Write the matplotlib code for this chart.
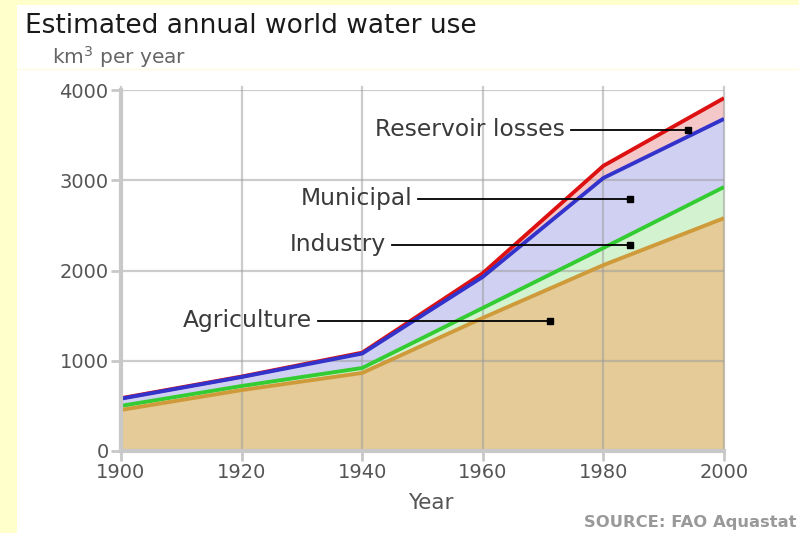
import matplotlib
matplotlib.use("Agg")
import matplotlib.pyplot as plt
from matplotlib.patches import Rectangle
import numpy as np

plt.rcParams['font.family'] = ['DejaVu Sans']

years = [1900, 1920, 1940, 1960, 1980, 2000]
# cumulative totals, km3 per year
agriculture_total = [455, 675, 865, 1475, 2060, 2580]
industry_total = [500, 720, 920, 1585, 2250, 2925]
municipal_total = [580, 820, 1080, 1930, 3025, 3680]
reservoir_total = [585, 825, 1090, 1970, 3160, 3910]

series_names = ["Agriculture", "Industry", "Municipal", "Reservoir losses"]
x_ticks = [1900, 1920, 1940, 1960, 1980, 2000]
y_ticks = [0, 1000, 2000, 3000, 4000]

fill_colors = ["#E4CB98", "#D3F2D0", "#D0D0F2", "#F4C8C8"]
line_colors = ["#CF9A3A", "#33CC33", "#3333CC", "#DD1111"]

fig = plt.figure(figsize=(7.99, 5.33), dpi=100)
fig.patch.set_facecolor("#FFFFCC")
fig.patches.append(Rectangle((17 / 799, 0), 1, 1 - 5 / 533, transform=fig.transFigure,
                             facecolor="white", edgecolor="none", zorder=-5))
fig.lines.append(plt.Line2D([17 / 799, 1], [1 - 69 / 533, 1 - 69 / 533], transform=fig.transFigure,
                            color="#FFFBDD", lw=1, zorder=-4))

ax = fig.add_axes([121 / 799, 1 - 451 / 533, (724 - 121) / 799, (451 - 90) / 533])
ax.set_facecolor("none")
ax.set_zorder(1)

layers = [agriculture_total, industry_total, municipal_total, reservoir_total]
lower = np.zeros(len(years))
for vals, fc in zip(layers, fill_colors):
    v = np.array(vals, dtype=float)
    ax.fill_between(years, lower, v, color=fc, lw=0, zorder=1)
    lower = v

ax.set_xlim(1900, 2000)
ax.set_ylim(0, 4000)
ax.set_xticks(x_ticks)
ax.set_yticks(y_ticks)

# grid drawn above the fills, semi-transparent
for xv in x_ticks:
    ax.plot([xv, xv], [0, 4030], color="#9A9A9A", alpha=0.5, lw=1.6, zorder=2, clip_on=False)
for yv in y_ticks:
    ax.axhline(yv, color="#9A9A9A", alpha=0.5, lw=1.6, zorder=2)

for vals, lc in reversed(list(zip(layers, line_colors))):
    ax.plot(years, vals, color=lc, lw=2.8, zorder=3, solid_capstyle="butt")

for side in ["top", "right"]:
    ax.spines[side].set_visible(False)
for side in ["left", "bottom"]:
    ax.spines[side].set_color("#C8C8C8")
    ax.spines[side].set_linewidth(3)
    ax.spines[side].set_zorder(4)
ax.tick_params(axis="both", colors="#C8C8C8", width=2, length=7, labelcolor="#555555",
               labelsize=14, pad=2)

ax.set_xlabel("Year", fontsize=15.5, color="#555555")
ax.xaxis.set_label_coords((431 - 121) / (724 - 121), -(503 - 451) / (451 - 90), transform=ax.transAxes)
ax.xaxis.label.set_va("center")

# callout labels
callouts = [
    ("Reservoir losses", 565, 130, 688),
    ("Municipal", 412, 199, 630),
    ("Industry", 386, 245, 630),
    ("Agriculture", 312, 321, 550),
]
inv = ax.transData.inverted()
for text, x_text, y_px, x_end in callouts:
    x0, y0 = inv.transform((x_text + 6, 533 - y_px))
    x1, _ = inv.transform((x_end, 533 - y_px))
    xt, _ = inv.transform((x_text, 533 - y_px))
    ax.text(xt, y0, text, ha="right", va="center", fontsize=16.8, color="#3A3A3A", zorder=6)
    ax.plot([x0, x1], [y0, y0], color="black", lw=1.3, zorder=6)
    ax.plot([x1], [y0], marker="s", color="black", ms=5, zorder=6)

fig.text(25 / 799, 1 - 26 / 533, "Estimated annual world water use", fontsize=19,
         color="#1A1A1A", va="center", ha="left")
fig.text(52 / 799, 1 - 57 / 533, "km$^3$ per year", fontsize=14.5, color="#666666",
         va="center", ha="left")
fig.text(797 / 799, 1 - 523 / 533, "SOURCE: FAO Aquastat", fontsize=11.8, color="#999999",
         fontweight="bold", va="center", ha="right")

fig.savefig("out.png", dpi=100, facecolor=fig.get_facecolor())
